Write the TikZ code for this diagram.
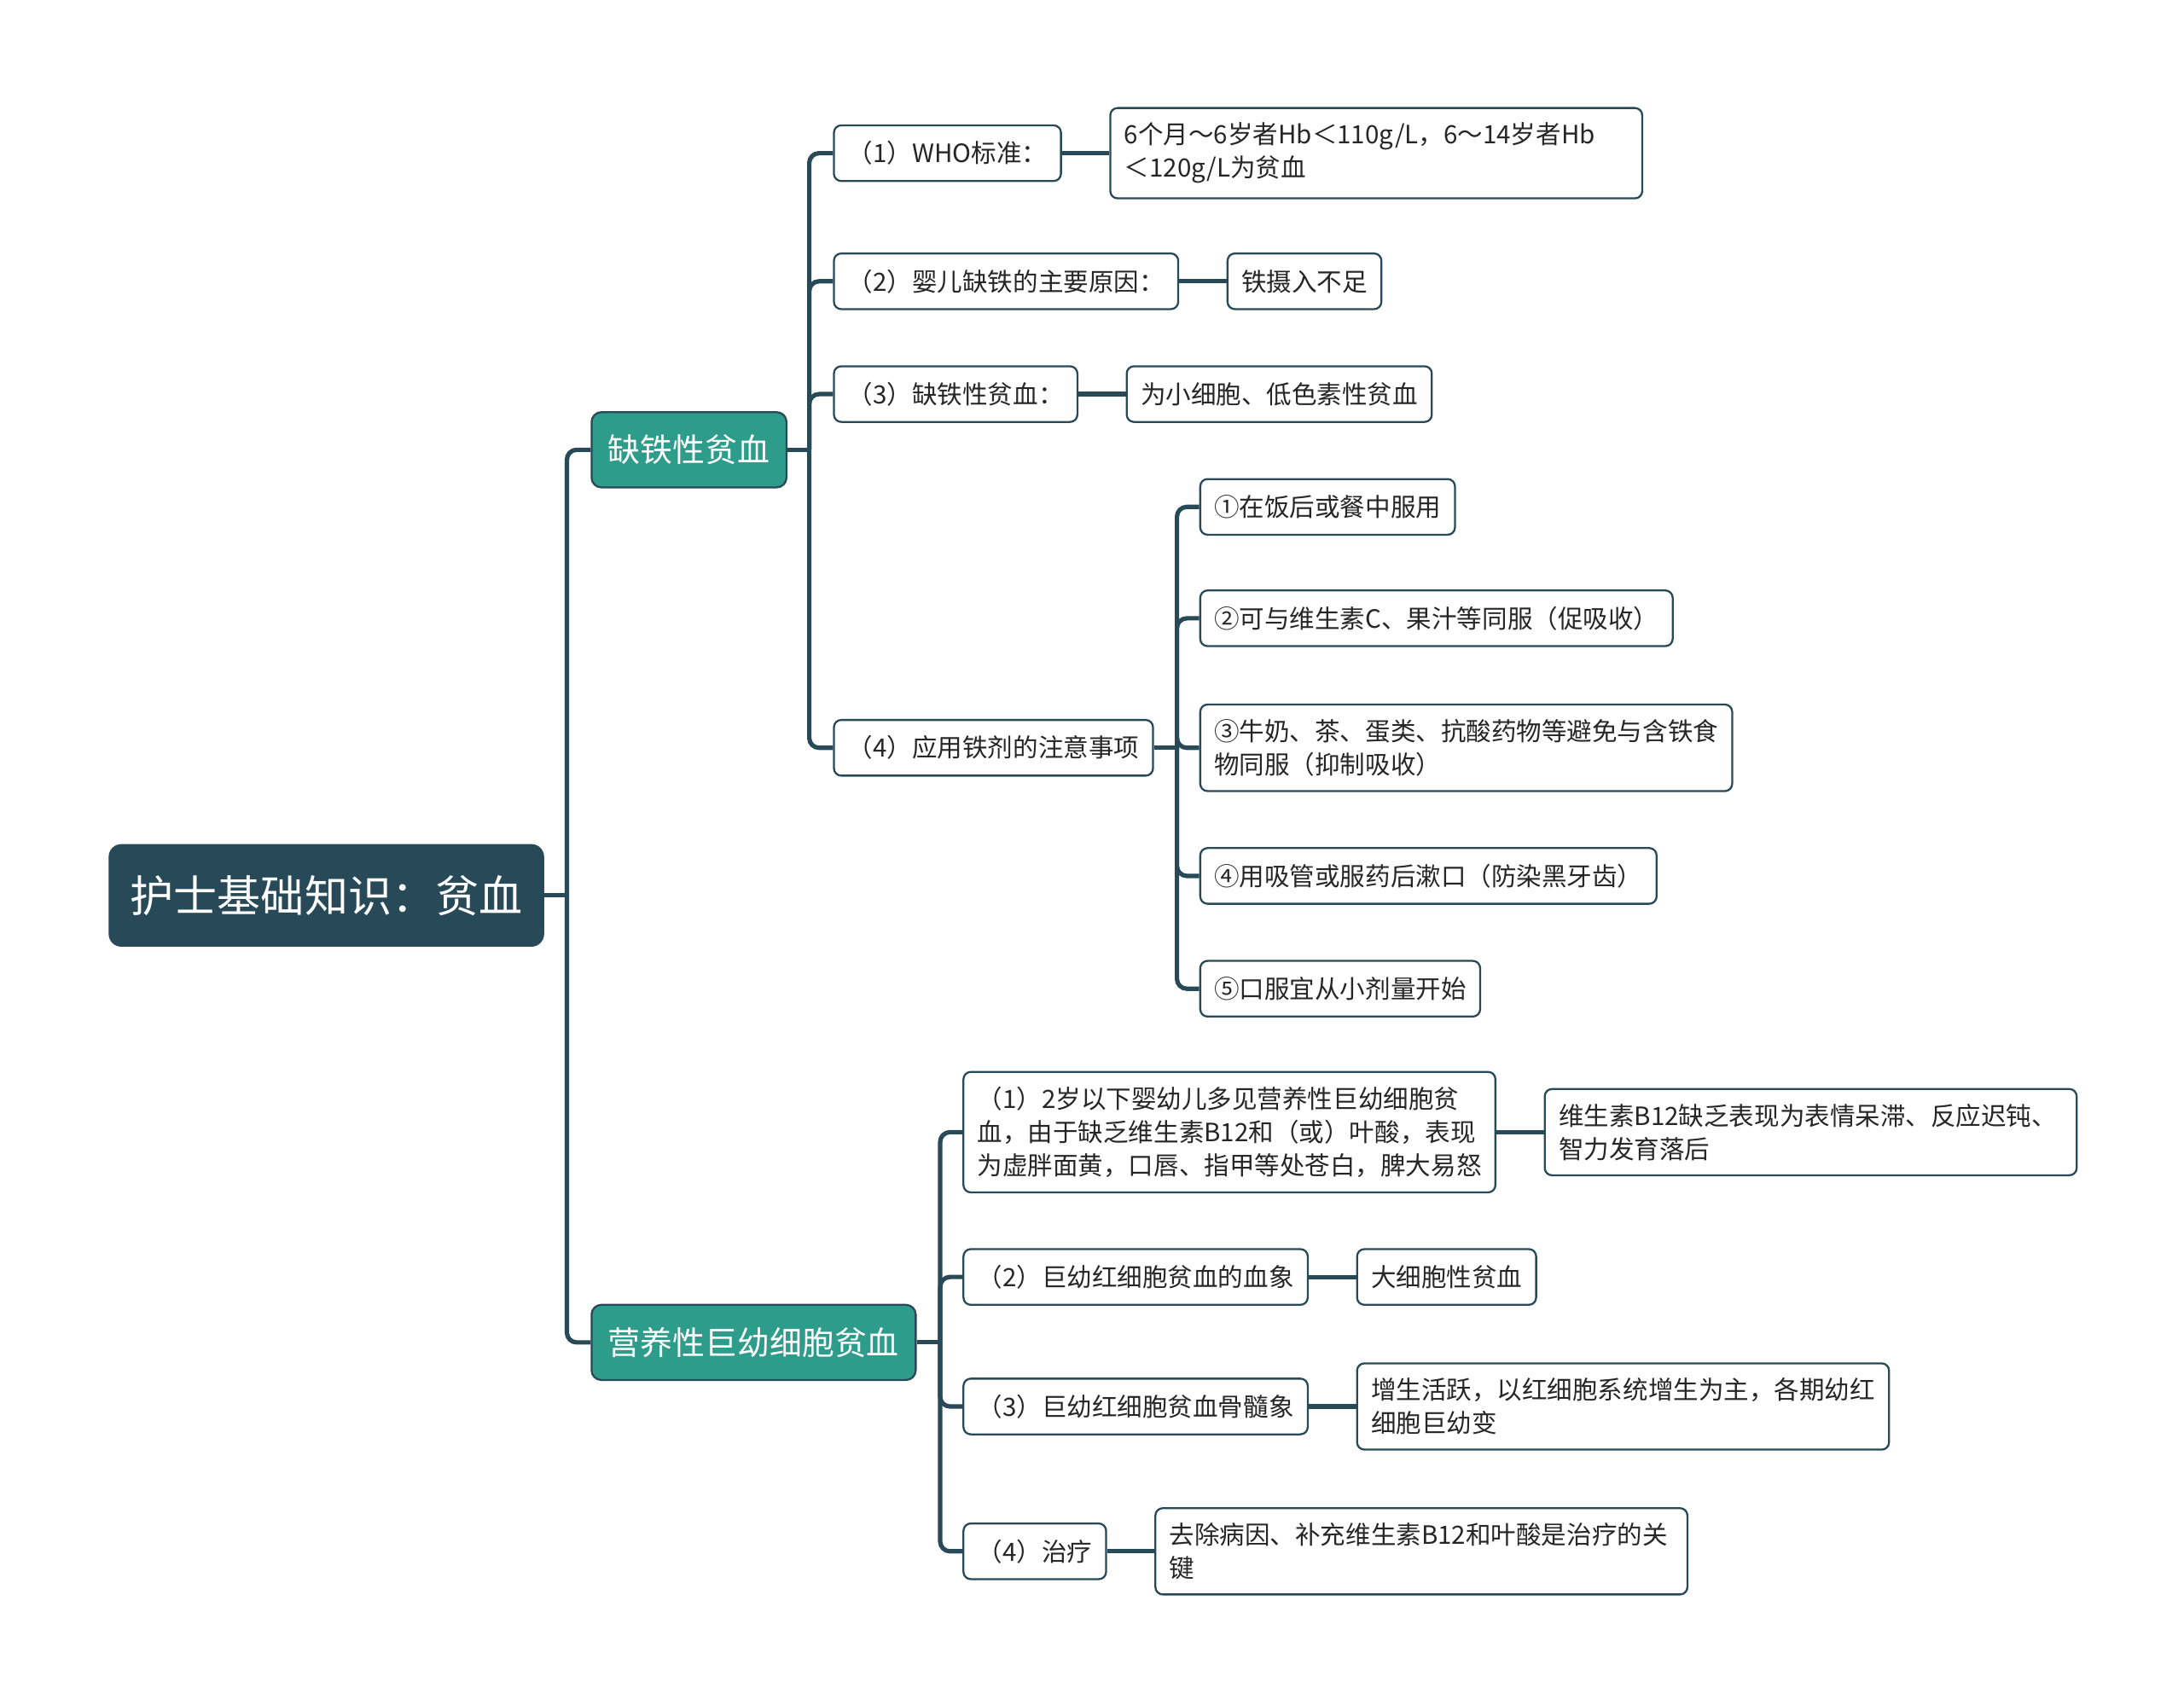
\documentclass[tikz,border=0pt]{standalone}
\usepackage{fontspec}
\newfontfamily\cjk{Noto Sans CJK SC}
\usetikzlibrary{positioning}
\definecolor{slate}{HTML}{284A58}
\definecolor{tealfill}{HTML}{2E9C8A}

\begin{document}
\begin{tikzpicture}[x=0.02cm, y=-0.02cm,
    box/.style={draw=slate, line width=0.8pt, fill=white, rounded corners=3pt, anchor=west,
        minimum height=0.8cm, inner xsep=0.2cm, inner ysep=6pt, align=left, text=black!85,
        font=\cjk\fontsize{10.3}{13.66}\selectfont},
    wide/.style={text width=7.24cm},
    topic/.style={draw=slate, line width=0.8pt, fill=tealfill, rounded corners=4pt, anchor=west,
        minimum height=1.08cm, inner xsep=0.24cm, text=white, font=\cjk\fontsize{13.2}{16}\selectfont},
    link/.style={draw=slate, line width=1.8pt, rounded corners=4pt}
]
    \useasboundingbox (0,0) rectangle (1568,1224);

    % Root
    \node[draw=slate, fill=slate, rounded corners=5pt, anchor=west, minimum width=6.24cm, minimum height=1.46cm,
        text=white, font=\cjk\fontsize{17.8}{20}\selectfont] (root) at (78,643) {护士基础知识：贫血};

    % Main topics
    \node[topic] (iron) at (424,323) {缺铁性贫血};
    \node[topic] (mega) at (424,964) {营养性巨幼细胞贫血};

    % Iron deficiency anaemia
    \node[box] (who) at (598,110) {（1）WHO标准：};
    \node[box] (cause) at (598,202) {（2）婴儿缺铁的主要原因：};
    \node[box] (type) at (598,283) {（3）缺铁性贫血：};
    \node[box] (usage) at (598,537) {（4）应用铁剂的注意事项};

    \node[box, wide, right=0.68cm of who] (whoval) {6个月～6岁者Hb＜110g/L，6～14岁者Hb\\＜120g/L为贫血};
    \node[box, right=0.68cm of cause] (causeval) {铁摄入不足};
    \node[box, right=0.68cm of type] (typeval) {为小细胞、低色素性贫血};

    % Notes on iron preparations
    \node[box] (use1) at (861,364) {①在饭后或餐中服用};
    \node[box] (use2) at (861,444) {②可与维生素C、果汁等同服（促吸收）};
    \node[box, wide] (use3) at (861,537) {③牛奶、茶、蛋类、抗酸药物等避免与含铁食\\物同服（抑制吸收）};
    \node[box] (use4) at (861,629) {④用吸管或服药后漱口（防染黑牙齿）};
    \node[box] (use5) at (861,710) {⑤口服宜从小剂量开始};

    % Megaloblastic anaemia
    \node[box, wide] (mega1) at (691,813) {（1）2岁以下婴幼儿多见营养性巨幼细胞贫\\血，由于缺乏维生素B12和（或）叶酸，表现\\为虚胖面黄，口唇、指甲等处苍白，脾大易怒};
    \node[box] (mega2) at (691,917) {（2）巨幼红细胞贫血的血象};
    \node[box] (mega3) at (691,1010) {（3）巨幼红细胞贫血骨髓象};
    \node[box] (mega4) at (691,1114) {（4）治疗};

    \node[box, wide, right=0.68cm of mega1] (mega1val) {维生素B12缺乏表现为表情呆滞、反应迟钝、\\智力发育落后};
    \node[box, right=0.68cm of mega2] (mega2val) {大细胞性贫血};
    \node[box, wide, right=0.68cm of mega3] (mega3val) {增生活跃，以红细胞系统增生为主，各期幼红\\细胞巨幼变};
    \node[box, wide, right=0.68cm of mega4] (mega4val) {去除病因、补充维生素B12和叶酸是治疗的关\\键};

    % Junctions
    \coordinate (rootj) at (407,643);
    \coordinate (ironj) at (581,323);
    \coordinate (usej) at (845,537);
    \coordinate (megaj) at (675,964);

    % Connectors
    \draw[link] (root.east) -- (rootj);
    \draw[link] (rootj) |- (iron.west);
    \draw[link] (rootj) |- (mega.west);

    \draw[link] (iron.east) -- (ironj);
    \draw[link] (ironj) |- (who.west);
    \draw[link] (ironj) |- (cause.west);
    \draw[link] (ironj) |- (type.west);
    \draw[link] (ironj) |- (usage.west);

    \draw[link] (who) -- (whoval);
    \draw[link] (cause) -- (causeval);
    \draw[link] (type) -- (typeval);

    \draw[link] (usage.east) -- (usej);
    \draw[link] (usej) |- (use1.west);
    \draw[link] (usej) |- (use2.west);
    \draw[link] (usej) |- (use3.west);
    \draw[link] (usej) |- (use4.west);
    \draw[link] (usej) |- (use5.west);

    \draw[link] (mega.east) -- (megaj);
    \draw[link] (megaj) |- (mega1.west);
    \draw[link] (megaj) |- (mega2.west);
    \draw[link] (megaj) |- (mega3.west);
    \draw[link] (megaj) |- (mega4.west);

    \draw[link] (mega1) -- (mega1val);
    \draw[link] (mega2) -- (mega2val);
    \draw[link] (mega3) -- (mega3val);
    \draw[link] (mega4) -- (mega4val);
\end{tikzpicture}
\end{document}
